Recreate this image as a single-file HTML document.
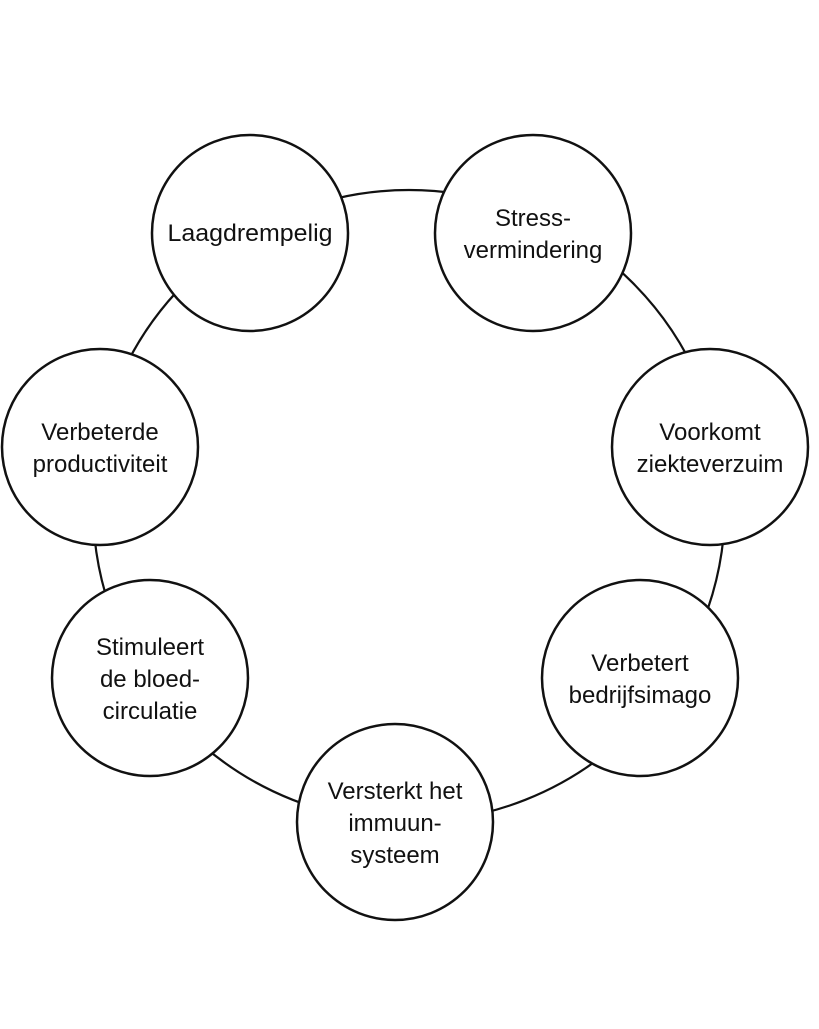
<!DOCTYPE html>
<html><head><style>
html,body{margin:0;padding:0;background:#fff;}
</style></head><body>
<svg width="819" height="1024" viewBox="0 0 819 1024" xmlns="http://www.w3.org/2000/svg">
<rect width="819" height="1024" fill="#fff"/>
<circle cx="409" cy="506" r="316" fill="none" stroke="#111" stroke-width="2.2"/>
<g fill="#fff" stroke="#111" stroke-width="2.5">
<circle cx="250" cy="233" r="98"/>
<circle cx="533" cy="233" r="98"/>
<circle cx="710" cy="447" r="98"/>
<circle cx="100" cy="447" r="98"/>
<circle cx="150" cy="678" r="98"/>
<circle cx="640" cy="678" r="98"/>
<circle cx="395" cy="822" r="98"/>
</g>
<g font-family="Liberation Sans, sans-serif" font-size="24" fill="#111" text-anchor="middle">
<text x="250" y="241" textLength="165" lengthAdjust="spacingAndGlyphs">Laagdrempelig</text>
<text x="533" y="226">Stress-</text><text x="533" y="258">vermindering</text>
<text x="710" y="440">Voorkomt</text><text x="710" y="472">ziekteverzuim</text>
<text x="100" y="440">Verbeterde</text><text x="100" y="472">productiviteit</text>
<text x="150" y="655">Stimuleert</text><text x="150" y="687">de bloed-</text><text x="150" y="719">circulatie</text>
<text x="640" y="671">Verbetert</text><text x="640" y="703">bedrijfsimago</text>
<text x="395" y="799">Versterkt het</text><text x="395" y="831">immuun-</text><text x="395" y="863">systeem</text>
</g>
</svg>
</body></html>
